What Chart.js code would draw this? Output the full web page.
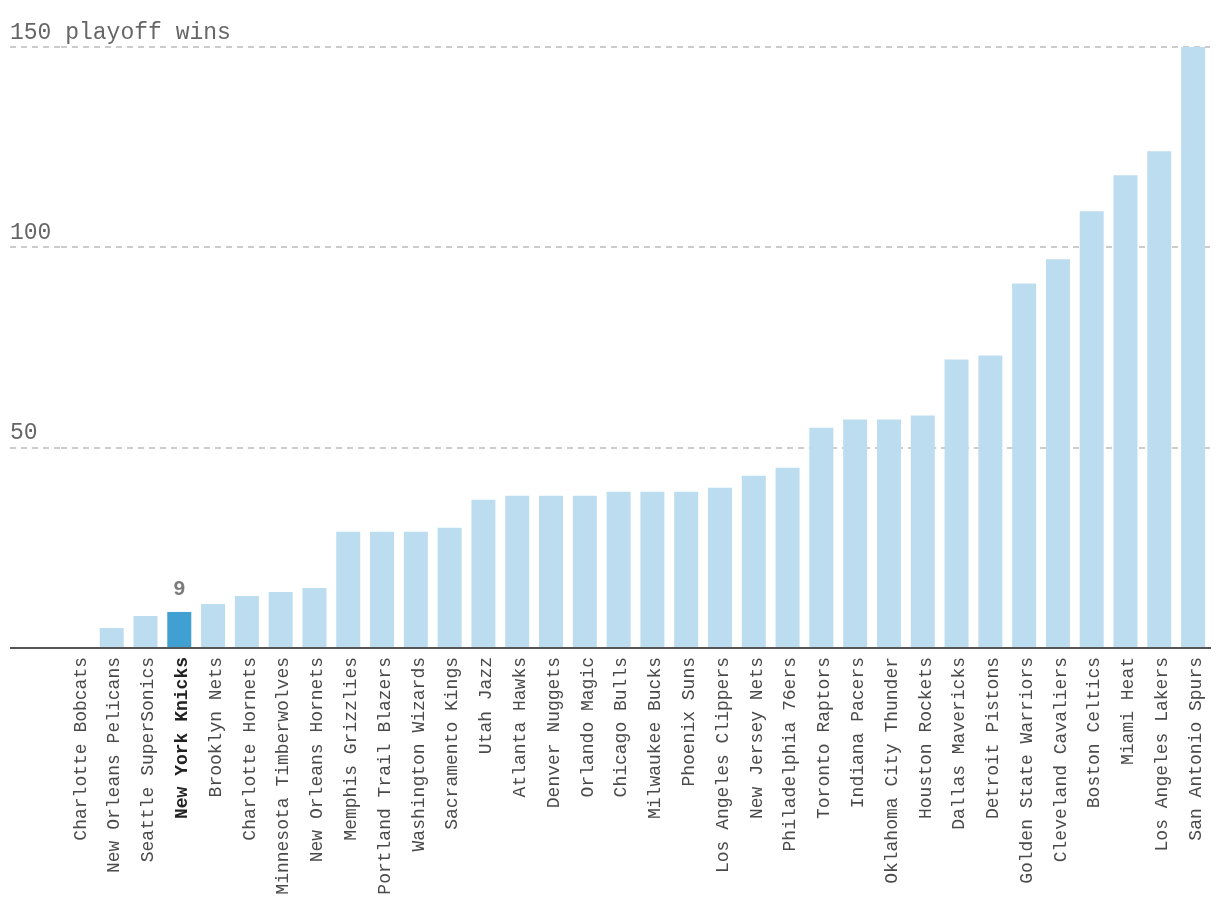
<!DOCTYPE html>
<html>
<head>
<meta charset="utf-8">
<script src="https://cdn.jsdelivr.net/npm/chart.js@4/dist/chart.umd.min.js"></script>
<style>
    html, body { margin: 0; padding: 0; background: #ffffff; }
    #wrap { width: 1220px; height: 914px; position: relative; }
</style>
</head>
<body>
<div id="wrap"><canvas id="winsChart"></canvas></div>
<script>
// Playoff wins by franchise
const teams = [
    'Charlotte Bobcats', 'New Orleans Pelicans', 'Seattle SuperSonics', 'New York Knicks',
    'Brooklyn Nets', 'Charlotte Hornets', 'Minnesota Timberwolves', 'New Orleans Hornets',
    'Memphis Grizzlies', 'Portland Trail Blazers', 'Washington Wizards', 'Sacramento Kings',
    'Utah Jazz', 'Atlanta Hawks', 'Denver Nuggets', 'Orlando Magic', 'Chicago Bulls',
    'Milwaukee Bucks', 'Phoenix Suns', 'Los Angeles Clippers', 'New Jersey Nets',
    'Philadelphia 76ers', 'Toronto Raptors', 'Indiana Pacers', 'Oklahoma City Thunder',
    'Houston Rockets', 'Dallas Mavericks', 'Detroit Pistons', 'Golden State Warriors',
    'Cleveland Cavaliers', 'Boston Celtics', 'Miami Heat', 'Los Angeles Lakers', 'San Antonio Spurs'
];
const wins = [
    0, 5, 8, 9,
    11, 13, 14, 15,
    29, 29, 29, 30,
    37, 38, 38, 38, 39,
    39, 39, 40, 43,
    45, 55, 57, 57,
    58, 72, 73, 91,
    97, 109, 118, 124, 150
];
const highlightTeam = 'New York Knicks';
const yTicks = [0, 50, 100, 150];
const yTickLabels = ['', '50', '100', '150 playoff wins'];

const MONO = '"Liberation Mono", "DejaVu Sans Mono", monospace';
const highlightIndex = teams.indexOf(highlightTeam);

// value label above the highlighted bar
const highlightLabel = {
    id: 'highlightLabel',
    afterDatasetsDraw(chart) {
        const bar = chart.getDatasetMeta(0).data[highlightIndex];
        if (!bar) return;
        const ctx = chart.ctx;
        ctx.save();
        ctx.font = 'bold 21px "Liberation Sans", Arial, sans-serif';
        ctx.fillStyle = '#7c7c7c';
        ctx.textAlign = 'center';
        ctx.textBaseline = 'bottom';
        ctx.fillText(String(wins[highlightIndex]), bar.x, bar.y - 12);
        ctx.restore();
    }
};

new Chart(document.getElementById('winsChart'), {
    type: 'bar',
    data: {
        labels: teams,
        datasets: [{
            data: wins,
            backgroundColor: teams.map(t => t === highlightTeam ? '#3fa0d1' : '#bcddef'),
            borderWidth: 0,
            categoryPercentage: 1,
            barPercentage: 0.71
        }]
    },
    options: {
        responsive: true,
        maintainAspectRatio: false,
        animation: false,
        layout: { padding: { left: 10, right: 10, top: 47, bottom: 0 } },
        plugins: {
            legend: { display: false },
            tooltip: { enabled: false }
        },
        scales: {
            x: {
                grid: { display: false, drawTicks: false },
                border: { display: true, color: '#555555', width: 2, z: 1 },
                ticks: {
                    autoSkip: false,
                    minRotation: 90,
                    maxRotation: 90,
                    padding: 9,
                    labelOffset: 3,
                    color: ctx => ctx.index === highlightIndex ? '#222222' : '#4a4a4a',
                    font: ctx => ({
                        family: MONO,
                        size: 18,
                        weight: ctx.index === highlightIndex ? 'bold' : 'normal'
                    })
                },
                afterFit(scale) {
                    scale.height = 266;
                    // no extra side padding for the rotated labels
                    scale.paddingLeft = 0;
                    scale.paddingRight = 0;
                }
            },
            y: {
                min: 0,
                max: 150,
                afterBuildTicks(scale) {
                    scale.ticks = yTicks.map(v => ({ value: v }));
                },
                grid: {
                    drawTicks: true,
                    tickLength: 51,
                    color: ctx => ctx.tick && ctx.tick.value === 0 ? '#555555' : '#cccccc',
                    tickColor: ctx => ctx.tick && ctx.tick.value === 0 ? '#555555' : '#cccccc',
                    lineWidth: 2,
                    tickWidth: 2,
                    tickBorderDash: ctx => ctx.tick && ctx.tick.value === 0 ? [] : [6, 5]
                },
                border: {
                    display: false,
                    dash: ctx => ctx.tick && ctx.tick.value === 0 ? [] : [6, 5]
                },
                ticks: {
                    mirror: true,
                    padding: -51,
                    color: '#666666',
                    font: { family: MONO, size: 23, lineHeight: 1.25 },
                    callback(value) {
                        const label = yTickLabels[yTicks.indexOf(value)];
                        return label ? [label, ''] : '';
                    }
                },
                afterFit(scale) { scale.width = 51; }
            }
        }
    },
    plugins: [highlightLabel]
});
</script>
</body>
</html>
